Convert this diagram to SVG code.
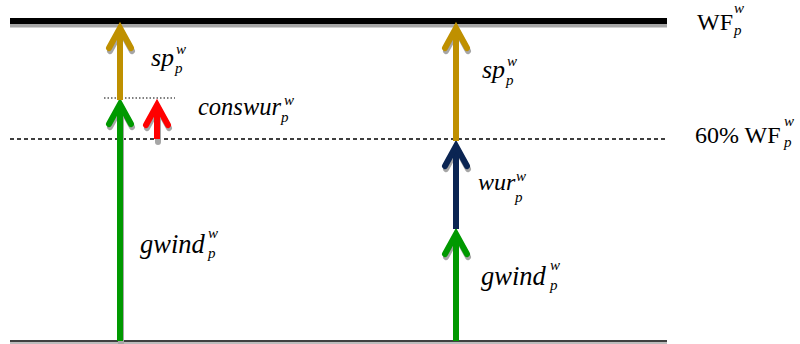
<svg xmlns="http://www.w3.org/2000/svg" width="800" height="344" viewBox="0 0 800 344">
<style>
.t{font-family:"Liberation Serif","Times New Roman",serif;font-style:italic;fill:#000}
.r{font-family:"Liberation Serif","Times New Roman",serif;font-size:24px;fill:#000}
.s{font-family:"Liberation Serif","Times New Roman",serif;font-style:italic;font-size:15px;fill:#000}
.sh{stroke:#a6a6a6;fill:none;stroke-width:6;stroke-linecap:round;stroke-linejoin:miter}
.ar{fill:none;stroke-width:6;stroke-linecap:round;stroke-linejoin:miter}
.g{stroke:#009900}.y{stroke:#bf9000}.rd{stroke:#ff0000}.n{stroke:#0b2553}
</style>
<g id="levels">
<line x1="10" y1="25.5" x2="667" y2="25.5" stroke="#a6a6a6" stroke-width="4"/>
<line x1="10" y1="21" x2="667" y2="21" stroke="#000" stroke-width="6"/>
<line x1="10" y1="139" x2="667" y2="139" stroke="#000" stroke-width="1.5" stroke-dasharray="4,3"/>
<line x1="104" y1="98" x2="175" y2="98" stroke="#000" stroke-width="1.2" stroke-dasharray="1.5,2"/>
<line x1="10" y1="343" x2="667" y2="343" stroke="#a6a6a6" stroke-width="1.5"/>
<line x1="10" y1="341" x2="667" y2="341" stroke="#000" stroke-width="1.5"/>
</g>
<g id="connectors">
<g id="gwind-left">
<line class="sh" x1="121" y1="343" x2="121" y2="108"/>
<polyline class="sh" points="110,127 121,107 132,127"/>
<line x1="120" y1="341" x2="120" y2="105" stroke="#009900" stroke-width="6"/>
<polyline class="ar g" points="109,124 120,104 131,124"/>
</g>
<g id="sp-left">
<polyline class="sh" points="110,51 121,31 132,51"/>
<line x1="120" y1="100" x2="120" y2="29" stroke="#bf9000" stroke-width="6"/>
<polyline class="ar y" points="109,48 120,28 131,48"/>
</g>
<g id="conswur">
<line class="sh" x1="158" y1="142" x2="158" y2="110"/>
<polyline class="sh" points="147,128 158,108 169,128"/>
<line x1="157" y1="139" x2="157" y2="106" stroke="#ff0000" stroke-width="6"/>
<polyline class="ar rd" points="146,125 157,105 168,125"/>
</g>
<g id="gwind-right">
<polyline class="sh" points="446,257 457,237 468,257"/>
<line x1="456" y1="341" x2="456" y2="235" stroke="#009900" stroke-width="6"/>
<polyline class="ar g" points="445,254 456,234 467,254"/>
</g>
<g id="wur">
<polyline class="sh" points="446,169 457,149 468,169"/>
<line x1="456" y1="229" x2="456" y2="147" stroke="#0b2553" stroke-width="6"/>
<polyline class="ar n" points="445,166 456,146 467,166"/>
</g>
<g id="sp-right">
<polyline class="sh" points="446,51 457,31 468,51"/>
<line x1="456" y1="141" x2="456" y2="29" stroke="#bf9000" stroke-width="6"/>
<polyline class="ar y" points="445,48 456,28 467,48"/>
</g>
</g>
<g id="labels">
<g id="lbl-sp-left"><text class="t" font-size="26" x="151" y="66">sp</text><text class="s" x="176" y="54">w</text><text class="s" x="175" y="73">p</text></g>
<g id="lbl-sp-right"><text class="t" font-size="26" x="482" y="78">sp</text><text class="s" x="507" y="66">w</text><text class="s" x="506" y="85">p</text></g>
<g id="lbl-conswur"><text class="t" font-size="24.5" x="198" y="115">conswur</text><text class="s" x="284" y="105">w</text><text class="s" x="281" y="122">p</text></g>
<g id="lbl-wur"><text class="t" font-size="24" x="478" y="190">wur</text><text class="s" x="516" y="181">w</text><text class="s" x="515" y="202">p</text></g>
<g id="lbl-gwind-left"><text class="t" font-size="26.5" x="140" y="253">gwind</text><text class="s" x="208" y="238">w</text><text class="s" x="208" y="258">p</text></g>
<g id="lbl-gwind-right"><text class="t" font-size="26.5" x="481" y="285">gwind</text><text class="s" x="550" y="270">w</text><text class="s" x="550" y="290">p</text></g>
<g id="lbl-wf"><text class="r" x="697" y="30">WF</text><text class="s" x="734" y="13">w</text><text class="s" x="734" y="35">p</text></g>
<g id="lbl-wf60"><text class="r" x="695" y="143">60% WF</text><text class="s" x="784" y="126">w</text><text class="s" x="784" y="147">p</text></g>
</g>
</svg>
